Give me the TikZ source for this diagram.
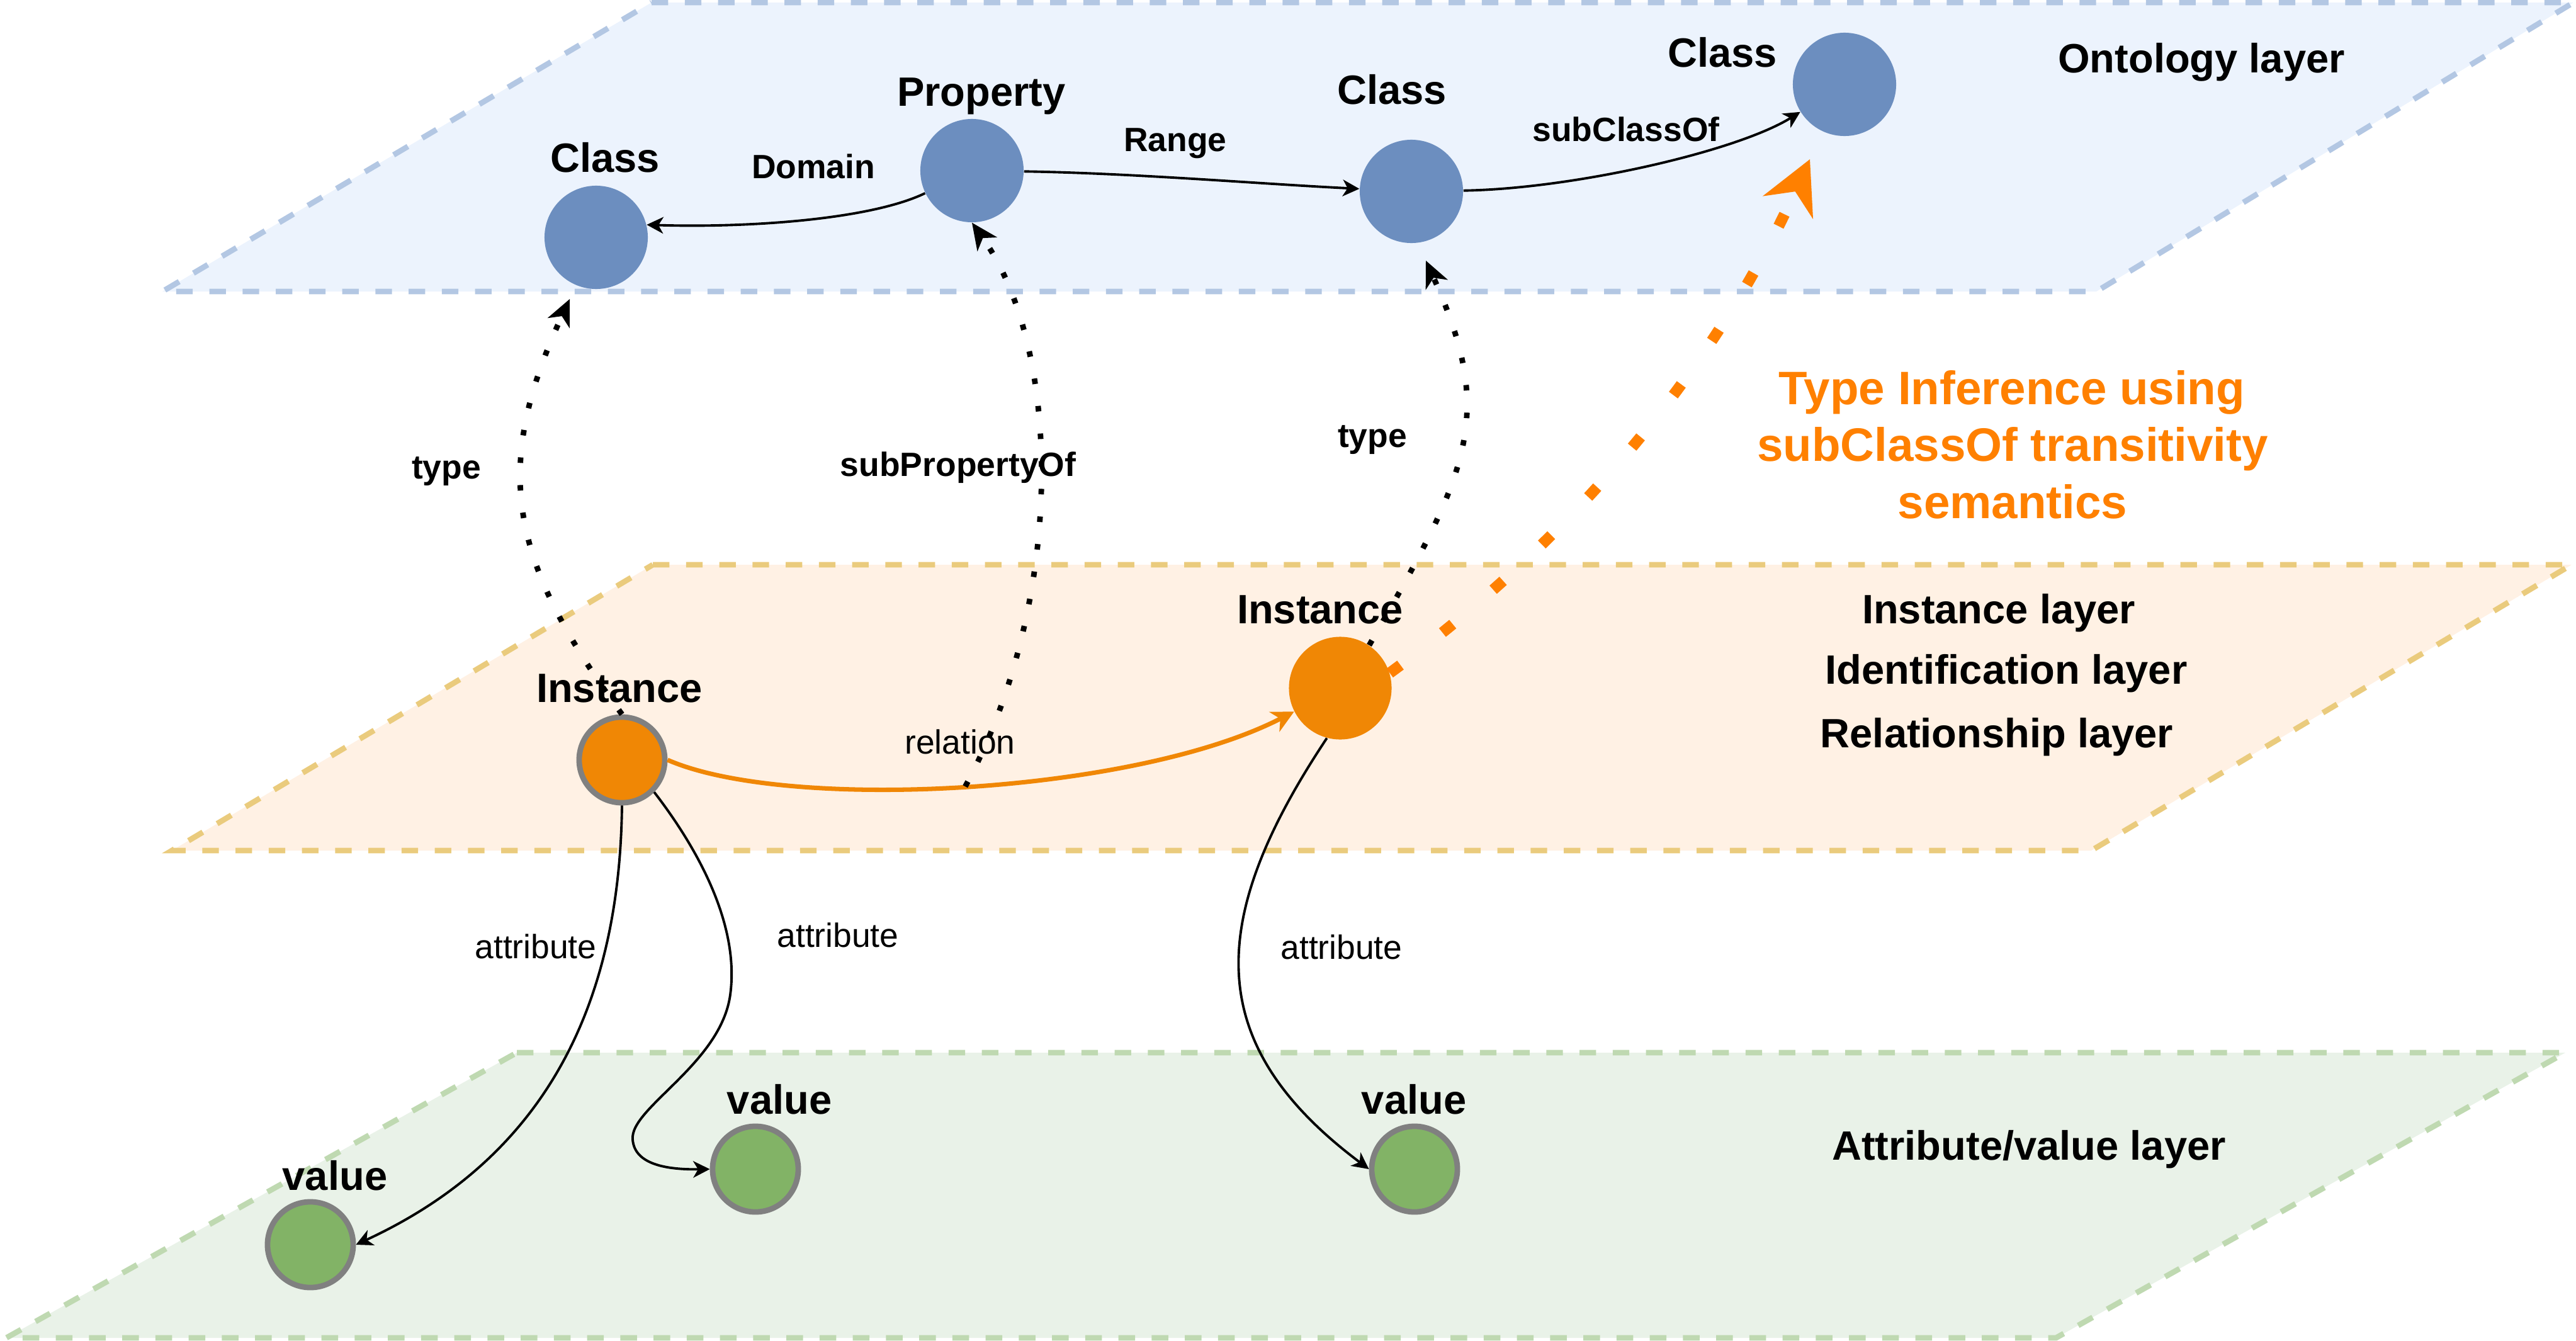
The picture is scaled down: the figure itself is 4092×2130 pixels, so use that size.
\documentclass[tikz,border=0pt]{standalone}
\usepackage{fontspec}
\setmainfont{Liberation Sans}
\usetikzlibrary{arrows.meta}
\definecolor{bluefill}{HTML}{ECF3FD}
\definecolor{blueborder}{HTML}{B3C7E3}
\definecolor{orgfill}{HTML}{FFF1E4}
\definecolor{orgborder}{HTML}{EACB7D}
\definecolor{grnfill}{HTML}{E9F2E8}
\definecolor{grnborder}{HTML}{BFD9B1}
\definecolor{classblue}{HTML}{6C8EBF}
\definecolor{instorange}{HTML}{F08705}
\definecolor{valgreen}{HTML}{82B366}
\definecolor{ringgray}{HTML}{808080}
\definecolor{inferorange}{HTML}{FF8000}
\begin{document}
\begin{tikzpicture}[x=0.01cm,y=-0.01cm,
  layerbox/.style={line width=2.5pt, dash pattern=on 7.5pt off 7.5pt},
  classnode/.style={circle, fill=classblue, minimum size=1.64cm, inner sep=0pt},
  inst2node/.style={circle, fill=instorange, minimum size=1.63cm, inner sep=0pt},
  inst1node/.style={circle, fill=instorange, draw=ringgray, line width=2.5pt, minimum size=1.36cm, inner sep=0pt},
  valnode/.style={circle, fill=valgreen, draw=ringgray, line width=2.5pt, minimum size=1.36cm, inner sep=0pt},
  big/.style={font=\fontsize{18.5pt}{22pt}\selectfont\bfseries, inner sep=0pt, anchor=base},
  elab/.style={font=\fontsize{15.2pt}{18pt}\selectfont\bfseries, inner sep=0pt, anchor=base},
  rlab/.style={font=\fontsize{15.2pt}{18pt}\selectfont, inner sep=0pt, anchor=base},
  olab/.style={font=\fontsize{21.2pt}{25pt}\selectfont\bfseries, text=inferorange, inner sep=0pt, anchor=base},
  solidarrow/.style={line width=1.1pt, -{Stealth[length=7.5pt,width=7.5pt,inset=2.2pt]}},
  reledge/.style={draw=instorange, line width=2pt, -{Stealth[length=10pt,width=10pt,inset=3pt]}},
  dotedge/.style={line width=2.5pt, dash pattern=on 2.5pt off 10pt, -{Stealth[length=12pt,width=11pt,inset=3.5pt,line width=0.5pt]}},
  inferedge/.style={draw=inferorange, line width=5pt, dash pattern=on 6pt off 24pt, -{Stealth[length=24pt,width=25pt,inset=8pt,line width=0.5pt]}}
]
\useasboundingbox (0,0) rectangle (4092,2130);

% layers
\draw[layerbox, draw=blueborder, fill=bluefill] (1035,4) -- (4088,4) -- (3330,463) -- (258,463) -- cycle;
\draw[layerbox, draw=orgborder, fill=orgfill] (1037,897) -- (4085,897) -- (3322,1351) -- (273,1351) -- cycle;
\draw[layerbox, draw=grnborder, fill=grnfill] (821,1672) -- (4075,1672) -- (3266,2125) -- (10,2125) -- cycle;

% nodes
\node[classnode] (C1) at (947,377) {};
\node[classnode] (P) at (1544,271) {};
\node[classnode] (C2) at (2242,304) {};
\node[classnode] (C3) at (2930,134) {};
\node[inst1node] (I1) at (988,1207) {};
\node[inst2node] (I2) at (2129,1093) {};
\node[valnode] (V1) at (493,1977) {};
\node[valnode] (V2) at (1200,1857) {};
\node[valnode] (V3) at (2247,1857) {};

% labels
\node[big] (lC1) at (961,273) {Class};
\node[big] (lP) at (1559,168) {Property};
\node[big] (lC2) at (2211,165) {Class};
\node[big] (lC3) at (2736,106) {Class};
\node[big] (lOnt) at (3497,115) {Ontology layer};
\node[elab] (lDom) at (1292,283) {Domain};
\node[elab] (lRange) at (1867,240) {Range};
\node[elab] (lSub) at (2583,224) {subClassOf};
\node[elab] (lType1) at (709,760) {type};
\node[elab] (lSubP) at (1522,756) {subPropertyOf};
\node[elab] (lType2) at (2180,710) {type};
\node[olab] (o1) at (3196,642) {Type Inference using};
\node[olab] (o2) at (3197,732) {subClassOf transitivity};
\node[olab] (o3) at (3197,823) {semantics};
\node[big] (lI1) at (984,1115) {Instance};
\node[big] (lI2) at (2097,990) {Instance};
\node[rlab] (lRel) at (1525,1197) {relation};
\node[big] (lInstL) at (3175,990) {Instance layer};
\node[big] (lIdL) at (3187,1086) {Identification layer};
\node[big] (lRelL) at (3172,1187) {Relationship layer};
\node[rlab] (lA1) at (851,1522) {attribute};
\node[rlab] (lA2) at (1331,1504) {attribute};
\node[rlab] (lA3) at (2131,1523) {attribute};
\node[big] (lV1) at (532,1890) {value};
\node[big] (lV2) at (1238,1769) {value};
\node[big] (lV3) at (2246,1769) {value};
\node[big] (lAttL) at (3223,1842) {Attribute/value layer};

% ontology edges
\draw[solidarrow] (P) .. controls (1380,350) and (1180,362) .. (C1.14);
\draw[solidarrow] (P) .. controls (1800,275) and (2000,292) .. (C2);
\draw[solidarrow] (C2) .. controls (2500,300) and (2760,240) .. (C3);

% relation
\draw[reledge] (I1.east) .. controls (1250,1290) and (1800,1262) .. (I2.207) coordinate[pos=0.5] (relmid);

% attribute edges
\draw[solidarrow] (I1.south) .. controls (984,1630) and (840,1850) .. (V1.east);
\draw[solidarrow] (I1.-45) .. controls (1110,1350) and (1175,1470) .. (1160,1580)
  .. controls (1145,1690) and (1000,1760) .. (1005,1810)
  .. controls (1008,1850) and (1060,1858) .. (V2.west);
\draw[solidarrow] (I2.-105) .. controls (1915,1462) and (1910,1659) .. (V3.west);

% dotted type / subPropertyOf
\coordinate (t1end) at (905,475);
\coordinate (t2end) at (2265,414);
\coordinate (infend) at (2875,253);
\draw[dotedge] (I1.north) .. controls (811,892) and (779,748) .. (t1end);
\draw[dotedge] (relmid) .. controls (1690,960) and (1690,560) .. (P.south);
\draw[dotedge] (I2.56) .. controls (2335,747) and (2376,660) .. (t2end);

% inference
\draw[inferedge] (I2.17) .. controls (2508,849) and (2727,578) .. (infend);
\end{tikzpicture}
\end{document}
